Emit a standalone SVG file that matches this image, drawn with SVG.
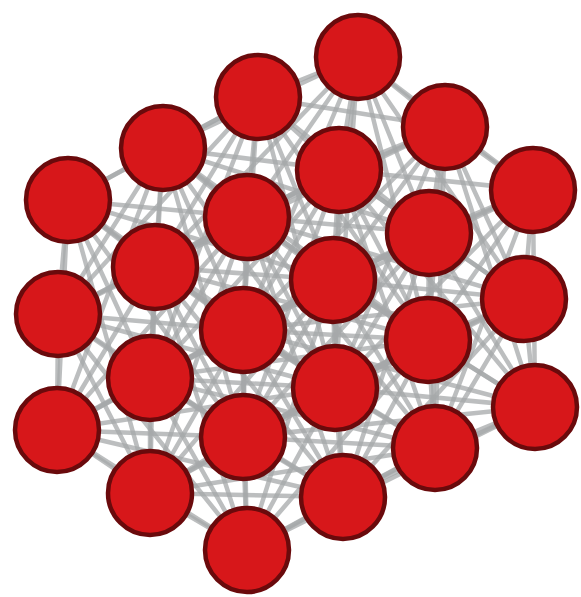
<svg xmlns="http://www.w3.org/2000/svg" width="581" height="597" viewBox="0 0 581 597">
<style>
.e{stroke:#a6a8aa;stroke-width:4.5;stroke-opacity:0.75;stroke-linecap:round}
.n{fill:#d7171a;stroke:#6a0a0c;stroke-width:4.5}
</style>
<rect width="581" height="597" fill="#ffffff"/>
<g id="edges">
<line class="e" x1="358" y1="57" x2="258" y2="97"/><line class="e" x1="358" y1="57" x2="445" y2="127"/><line class="e" x1="358" y1="57" x2="163" y2="148"/><line class="e" x1="358" y1="57" x2="339" y2="170"/><line class="e" x1="358" y1="57" x2="533" y2="190"/><line class="e" x1="358" y1="57" x2="247" y2="217"/><line class="e" x1="358" y1="57" x2="429" y2="233"/><line class="e" x1="358" y1="57" x2="333" y2="280"/>
<line class="e" x1="258" y1="97" x2="445" y2="127"/><line class="e" x1="258" y1="97" x2="163" y2="148"/><line class="e" x1="258" y1="97" x2="339" y2="170"/><line class="e" x1="258" y1="97" x2="68" y2="200"/><line class="e" x1="258" y1="97" x2="247" y2="217"/><line class="e" x1="258" y1="97" x2="429" y2="233"/><line class="e" x1="258" y1="97" x2="155" y2="267"/><line class="e" x1="258" y1="97" x2="333" y2="280"/><line class="e" x1="258" y1="97" x2="243" y2="330"/>
<line class="e" x1="445" y1="127" x2="339" y2="170"/><line class="e" x1="445" y1="127" x2="533" y2="190"/><line class="e" x1="445" y1="127" x2="247" y2="217"/><line class="e" x1="445" y1="127" x2="429" y2="233"/><line class="e" x1="445" y1="127" x2="333" y2="280"/><line class="e" x1="445" y1="127" x2="524" y2="299"/><line class="e" x1="445" y1="127" x2="428" y2="340"/>
<line class="e" x1="163" y1="148" x2="339" y2="170"/><line class="e" x1="163" y1="148" x2="68" y2="200"/><line class="e" x1="163" y1="148" x2="247" y2="217"/><line class="e" x1="163" y1="148" x2="155" y2="267"/><line class="e" x1="163" y1="148" x2="333" y2="280"/><line class="e" x1="163" y1="148" x2="58" y2="314"/><line class="e" x1="163" y1="148" x2="243" y2="330"/><line class="e" x1="163" y1="148" x2="150" y2="378"/>
<line class="e" x1="339" y1="170" x2="533" y2="190"/><line class="e" x1="339" y1="170" x2="247" y2="217"/><line class="e" x1="339" y1="170" x2="429" y2="233"/><line class="e" x1="339" y1="170" x2="155" y2="267"/><line class="e" x1="339" y1="170" x2="333" y2="280"/><line class="e" x1="339" y1="170" x2="524" y2="299"/><line class="e" x1="339" y1="170" x2="243" y2="330"/><line class="e" x1="339" y1="170" x2="428" y2="340"/><line class="e" x1="339" y1="170" x2="335" y2="388"/>
<line class="e" x1="533" y1="190" x2="429" y2="233"/><line class="e" x1="533" y1="190" x2="333" y2="280"/><line class="e" x1="533" y1="190" x2="524" y2="299"/><line class="e" x1="533" y1="190" x2="428" y2="340"/><line class="e" x1="533" y1="190" x2="535" y2="407"/>
<line class="e" x1="68" y1="200" x2="247" y2="217"/><line class="e" x1="68" y1="200" x2="155" y2="267"/><line class="e" x1="68" y1="200" x2="58" y2="314"/><line class="e" x1="68" y1="200" x2="243" y2="330"/><line class="e" x1="68" y1="200" x2="150" y2="378"/><line class="e" x1="68" y1="200" x2="57" y2="430"/>
<line class="e" x1="247" y1="217" x2="429" y2="233"/><line class="e" x1="247" y1="217" x2="155" y2="267"/><line class="e" x1="247" y1="217" x2="333" y2="280"/><line class="e" x1="247" y1="217" x2="58" y2="314"/><line class="e" x1="247" y1="217" x2="243" y2="330"/><line class="e" x1="247" y1="217" x2="428" y2="340"/><line class="e" x1="247" y1="217" x2="150" y2="378"/><line class="e" x1="247" y1="217" x2="335" y2="388"/><line class="e" x1="247" y1="217" x2="243" y2="437"/>
<line class="e" x1="429" y1="233" x2="333" y2="280"/><line class="e" x1="429" y1="233" x2="524" y2="299"/><line class="e" x1="429" y1="233" x2="243" y2="330"/><line class="e" x1="429" y1="233" x2="428" y2="340"/><line class="e" x1="429" y1="233" x2="335" y2="388"/><line class="e" x1="429" y1="233" x2="535" y2="407"/><line class="e" x1="429" y1="233" x2="435" y2="448"/>
<line class="e" x1="155" y1="267" x2="333" y2="280"/><line class="e" x1="155" y1="267" x2="58" y2="314"/><line class="e" x1="155" y1="267" x2="243" y2="330"/><line class="e" x1="155" y1="267" x2="150" y2="378"/><line class="e" x1="155" y1="267" x2="335" y2="388"/><line class="e" x1="155" y1="267" x2="57" y2="430"/><line class="e" x1="155" y1="267" x2="243" y2="437"/><line class="e" x1="155" y1="267" x2="150" y2="493"/>
<line class="e" x1="333" y1="280" x2="524" y2="299"/><line class="e" x1="333" y1="280" x2="243" y2="330"/><line class="e" x1="333" y1="280" x2="428" y2="340"/><line class="e" x1="333" y1="280" x2="150" y2="378"/><line class="e" x1="333" y1="280" x2="335" y2="388"/><line class="e" x1="333" y1="280" x2="535" y2="407"/><line class="e" x1="333" y1="280" x2="243" y2="437"/><line class="e" x1="333" y1="280" x2="435" y2="448"/><line class="e" x1="333" y1="280" x2="343" y2="497"/>
<line class="e" x1="524" y1="299" x2="428" y2="340"/><line class="e" x1="524" y1="299" x2="335" y2="388"/><line class="e" x1="524" y1="299" x2="535" y2="407"/><line class="e" x1="524" y1="299" x2="435" y2="448"/>
<line class="e" x1="58" y1="314" x2="243" y2="330"/><line class="e" x1="58" y1="314" x2="150" y2="378"/><line class="e" x1="58" y1="314" x2="57" y2="430"/><line class="e" x1="58" y1="314" x2="243" y2="437"/><line class="e" x1="58" y1="314" x2="150" y2="493"/>
<line class="e" x1="243" y1="330" x2="428" y2="340"/><line class="e" x1="243" y1="330" x2="150" y2="378"/><line class="e" x1="243" y1="330" x2="335" y2="388"/><line class="e" x1="243" y1="330" x2="57" y2="430"/><line class="e" x1="243" y1="330" x2="243" y2="437"/><line class="e" x1="243" y1="330" x2="435" y2="448"/><line class="e" x1="243" y1="330" x2="150" y2="493"/><line class="e" x1="243" y1="330" x2="343" y2="497"/><line class="e" x1="243" y1="330" x2="247" y2="550"/>
<line class="e" x1="428" y1="340" x2="335" y2="388"/><line class="e" x1="428" y1="340" x2="535" y2="407"/><line class="e" x1="428" y1="340" x2="243" y2="437"/><line class="e" x1="428" y1="340" x2="435" y2="448"/><line class="e" x1="428" y1="340" x2="343" y2="497"/>
<line class="e" x1="150" y1="378" x2="335" y2="388"/><line class="e" x1="150" y1="378" x2="57" y2="430"/><line class="e" x1="150" y1="378" x2="243" y2="437"/><line class="e" x1="150" y1="378" x2="150" y2="493"/><line class="e" x1="150" y1="378" x2="343" y2="497"/><line class="e" x1="150" y1="378" x2="247" y2="550"/>
<line class="e" x1="335" y1="388" x2="535" y2="407"/><line class="e" x1="335" y1="388" x2="243" y2="437"/><line class="e" x1="335" y1="388" x2="435" y2="448"/><line class="e" x1="335" y1="388" x2="150" y2="493"/><line class="e" x1="335" y1="388" x2="343" y2="497"/><line class="e" x1="335" y1="388" x2="247" y2="550"/>
<line class="e" x1="535" y1="407" x2="435" y2="448"/><line class="e" x1="535" y1="407" x2="343" y2="497"/>
<line class="e" x1="57" y1="430" x2="243" y2="437"/><line class="e" x1="57" y1="430" x2="150" y2="493"/><line class="e" x1="57" y1="430" x2="247" y2="550"/>
<line class="e" x1="243" y1="437" x2="435" y2="448"/><line class="e" x1="243" y1="437" x2="150" y2="493"/><line class="e" x1="243" y1="437" x2="343" y2="497"/><line class="e" x1="243" y1="437" x2="247" y2="550"/>
<line class="e" x1="435" y1="448" x2="343" y2="497"/><line class="e" x1="435" y1="448" x2="247" y2="550"/>
<line class="e" x1="150" y1="493" x2="343" y2="497"/><line class="e" x1="150" y1="493" x2="247" y2="550"/>
<line class="e" x1="343" y1="497" x2="247" y2="550"/>
<line class="e" x1="358" y1="57" x2="155" y2="267"/><line class="e" x1="358" y1="57" x2="524" y2="299"/><line class="e" x1="358" y1="57" x2="243" y2="330"/><line class="e" x1="358" y1="57" x2="428" y2="340"/><line class="e" x1="358" y1="57" x2="335" y2="388"/>
<line class="e" x1="258" y1="97" x2="58" y2="314"/><line class="e" x1="258" y1="97" x2="428" y2="340"/><line class="e" x1="258" y1="97" x2="150" y2="378"/><line class="e" x1="258" y1="97" x2="335" y2="388"/>
<line class="e" x1="445" y1="127" x2="243" y2="330"/><line class="e" x1="445" y1="127" x2="335" y2="388"/><line class="e" x1="445" y1="127" x2="535" y2="407"/><line class="e" x1="445" y1="127" x2="435" y2="448"/><line class="e" x1="445" y1="127" x2="155" y2="267"/>
<line class="e" x1="163" y1="148" x2="429" y2="233"/><line class="e" x1="163" y1="148" x2="335" y2="388"/><line class="e" x1="163" y1="148" x2="57" y2="430"/><line class="e" x1="163" y1="148" x2="243" y2="437"/><line class="e" x1="163" y1="148" x2="428" y2="340"/>
<line class="e" x1="339" y1="170" x2="150" y2="378"/><line class="e" x1="339" y1="170" x2="243" y2="437"/><line class="e" x1="339" y1="170" x2="435" y2="448"/><line class="e" x1="339" y1="170" x2="535" y2="407"/><line class="e" x1="339" y1="170" x2="58" y2="314"/>
<line class="e" x1="533" y1="190" x2="335" y2="388"/><line class="e" x1="533" y1="190" x2="243" y2="330"/><line class="e" x1="533" y1="190" x2="435" y2="448"/>
<line class="e" x1="68" y1="200" x2="333" y2="280"/><line class="e" x1="68" y1="200" x2="335" y2="388"/><line class="e" x1="68" y1="200" x2="243" y2="437"/><line class="e" x1="68" y1="200" x2="150" y2="493"/>
<line class="e" x1="247" y1="217" x2="524" y2="299"/><line class="e" x1="247" y1="217" x2="57" y2="430"/><line class="e" x1="247" y1="217" x2="435" y2="448"/><line class="e" x1="247" y1="217" x2="150" y2="493"/><line class="e" x1="247" y1="217" x2="343" y2="497"/>
<line class="e" x1="429" y1="233" x2="150" y2="378"/><line class="e" x1="429" y1="233" x2="243" y2="437"/><line class="e" x1="429" y1="233" x2="343" y2="497"/>
<line class="e" x1="155" y1="267" x2="428" y2="340"/><line class="e" x1="155" y1="267" x2="343" y2="497"/><line class="e" x1="155" y1="267" x2="247" y2="550"/>
<line class="e" x1="333" y1="280" x2="57" y2="430"/><line class="e" x1="333" y1="280" x2="150" y2="493"/><line class="e" x1="333" y1="280" x2="247" y2="550"/>
<line class="e" x1="524" y1="299" x2="243" y2="437"/><line class="e" x1="524" y1="299" x2="343" y2="497"/><line class="e" x1="524" y1="299" x2="243" y2="330"/>
<line class="e" x1="58" y1="314" x2="335" y2="388"/><line class="e" x1="58" y1="314" x2="247" y2="550"/>
<line class="e" x1="243" y1="330" x2="535" y2="407"/>
<line class="e" x1="428" y1="340" x2="150" y2="378"/><line class="e" x1="428" y1="340" x2="150" y2="493"/><line class="e" x1="428" y1="340" x2="247" y2="550"/>
<line class="e" x1="150" y1="378" x2="435" y2="448"/>
<line class="e" x1="335" y1="388" x2="57" y2="430"/>
<line class="e" x1="535" y1="407" x2="243" y2="437"/><line class="e" x1="535" y1="407" x2="247" y2="550"/>
<line class="e" x1="57" y1="430" x2="343" y2="497"/>
<line class="e" x1="150" y1="493" x2="435" y2="448"/>
</g>
<g id="n1"><circle class="n" cx="358" cy="57" r="42"/></g>
<g id="n2"><circle class="n" cx="258" cy="97" r="42"/></g>
<g id="n3"><circle class="n" cx="445" cy="127" r="42"/></g>
<g id="n4"><circle class="n" cx="163" cy="148" r="42"/></g>
<g id="n5"><circle class="n" cx="339" cy="170" r="42"/></g>
<g id="n6"><circle class="n" cx="533" cy="190" r="42"/></g>
<g id="n7"><circle class="n" cx="68" cy="200" r="42"/></g>
<g id="n8"><circle class="n" cx="247" cy="217" r="42"/></g>
<g id="n9"><circle class="n" cx="429" cy="233" r="42"/></g>
<g id="n10"><circle class="n" cx="155" cy="267" r="42"/></g>
<g id="n11"><circle class="n" cx="333" cy="280" r="42"/></g>
<g id="n12"><circle class="n" cx="524" cy="299" r="42"/></g>
<g id="n13"><circle class="n" cx="58" cy="314" r="42"/></g>
<g id="n14"><circle class="n" cx="243" cy="330" r="42"/></g>
<g id="n15"><circle class="n" cx="428" cy="340" r="42"/></g>
<g id="n16"><circle class="n" cx="150" cy="378" r="42"/></g>
<g id="n17"><circle class="n" cx="335" cy="388" r="42"/></g>
<g id="n18"><circle class="n" cx="535" cy="407" r="42"/></g>
<g id="n19"><circle class="n" cx="57" cy="430" r="42"/></g>
<g id="n20"><circle class="n" cx="243" cy="437" r="42"/></g>
<g id="n21"><circle class="n" cx="435" cy="448" r="42"/></g>
<g id="n22"><circle class="n" cx="150" cy="493" r="42"/></g>
<g id="n23"><circle class="n" cx="343" cy="497" r="42"/></g>
<g id="n24"><circle class="n" cx="247" cy="550" r="42"/></g>
</svg>
